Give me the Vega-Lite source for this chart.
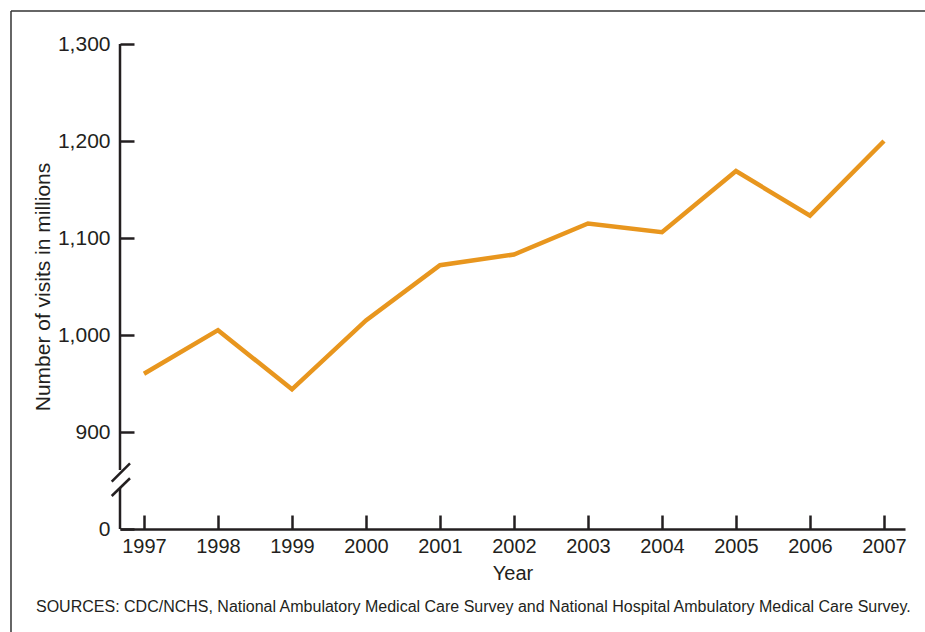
{
  "$schema": "https://vega.github.io/schema/vega-lite/v6.json",
  "width": 785,
  "height": 485,
  "autosize": {"type": "none"},
  "padding": {"left": 120, "top": 44, "right": 20, "bottom": 103},
  "background": "white",
  "config": {
    "view": {"stroke": null},
    "font": "Liberation Sans",
    "axis": {"grid": false}
  },
  "title": {
    "text": "SOURCES: CDC/NCHS, National Ambulatory Medical Care Survey and National Hospital Ambulatory Medical Care Survey.",
    "orient": "bottom",
    "anchor": "start",
    "frame": "group",
    "dx": -84,
    "offset": -34,
    "fontSize": 16,
    "fontWeight": "normal",
    "color": "#231f20",
    "font": "Liberation Sans"
  },
  "datasets": {
    "visits": [
      {"year": 1997, "visits": 960},
      {"year": 1998, "visits": 1005},
      {"year": 1999, "visits": 944},
      {"year": 2000, "visits": 1015},
      {"year": 2001, "visits": 1072},
      {"year": 2002, "visits": 1083},
      {"year": 2003, "visits": 1115},
      {"year": 2004, "visits": 1106},
      {"year": 2005, "visits": 1169},
      {"year": 2006, "visits": 1123},
      {"year": 2007, "visits": 1200}
    ],
    "axisline": [
      {"year": 1996.676, "visits": 800, "visits2": 842.3},
      {"year": 1996.676, "visits": 860.8, "visits2": 1300}
    ],
    "slashes": [
      {"year": 1996.564, "year2": 1996.811, "visits": 848.8, "visits2": 867.7},
      {"year": 1996.564, "year2": 1996.811, "visits": 834.0, "visits2": 852.3}
    ],
    "frameh": [
      {"year": 1995.203, "year2": 2008.5, "visits": 1334}
    ],
    "framev": [
      {"year": 1995.203, "visits": 693.8, "visits2": 1334}
    ]
  },
  "encoding": {
    "x": {
      "field": "year",
      "type": "quantitative",
      "scale": {"domain": [1996.676, 2007.284], "nice": false, "zero": false},
      "axis": {
        "title": "Year",
        "values": [1997, 1998, 1999, 2000, 2001, 2002, 2003, 2004, 2005, 2006, 2007],
        "format": "d",
        "domainColor": "#231f20",
        "domainWidth": 2.5,
        "tickColor": "#231f20",
        "tickSize": -14,
        "tickWidth": 2.5,
        "labelFont": "Liberation Sans",
        "labelFontSize": 20,
        "labelColor": "#231f20",
        "labelPadding": 21,
        "titleFont": "Liberation Sans",
        "titleFontSize": 20,
        "titleFontWeight": "normal",
        "titleColor": "#231f20",
        "titlePadding": 7
      }
    },
    "y": {
      "field": "visits",
      "type": "quantitative",
      "scale": {"domain": [800, 1300], "nice": false, "zero": false},
      "axis": {
        "title": "Number of visits in millions",
        "values": [800, 900, 1000, 1100, 1200, 1300],
        "labelExpr": "datum.value == 800 ? '0' : format(datum.value, ',')",
        "domain": false,
        "tickColor": "#231f20",
        "tickSize": -14,
        "tickWidth": 2.5,
        "labelFont": "Liberation Sans",
        "labelFontSize": 21,
        "labelColor": "#231f20",
        "labelPadding": 24,
        "titleFont": "Liberation Sans",
        "titleFontSize": 21,
        "titleFontWeight": "normal",
        "titleColor": "#231f20",
        "titlePadding": 4
      }
    }
  },
  "layer": [
    {
      "data": {"name": "visits"},
      "mark": {"type": "line", "color": "#e8961e", "strokeWidth": 4.5, "strokeJoin": "miter", "strokeCap": "butt"}
    },
    {
      "data": {"name": "axisline"},
      "mark": {"type": "rule", "color": "#231f20", "strokeWidth": 2.5},
      "encoding": {
        "y2": {"field": "visits2"}
      }
    },
    {
      "data": {"name": "slashes"},
      "mark": {"type": "rule", "color": "#231f20", "strokeWidth": 2.5},
      "encoding": {
        "x2": {"field": "year2"},
        "y2": {"field": "visits2"}
      }
    },
    {
      "data": {"name": "frameh"},
      "mark": {"type": "rule", "color": "#333333", "strokeWidth": 1.5},
      "encoding": {
        "x2": {"field": "year2"}
      }
    },
    {
      "data": {"name": "framev"},
      "mark": {"type": "rule", "color": "#333333", "strokeWidth": 1.5},
      "encoding": {
        "y2": {"field": "visits2"}
      }
    }
  ]
}
